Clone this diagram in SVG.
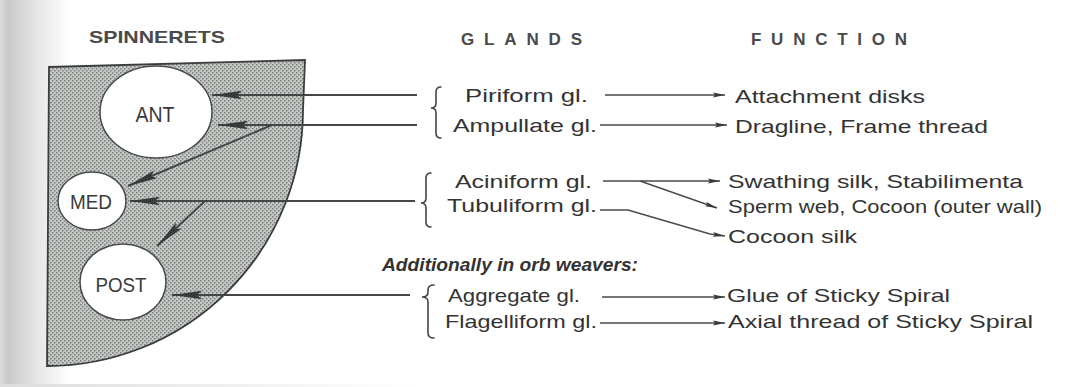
<svg xmlns="http://www.w3.org/2000/svg" width="1089" height="387" viewBox="0 0 1089 387">
  <defs>
    <style>
      .t { font-family: "Liberation Sans", Arial, sans-serif; font-size: 19px; fill: #333333; }
      .hd { font-family: "Liberation Sans", Arial, sans-serif; font-size: 17px; font-weight: bold; fill: #4a4a4a; }
      .sp { font-family: "Liberation Sans", Arial, sans-serif; fill: #3a3a3a; text-anchor: middle; }
      .node { fill: #ffffff; stroke: #4a4a4a; stroke-width: 1.5; }
      .big { fill: none; stroke: #464646; stroke-width: 2; marker-end: url(#bigHead); }
      .fn { fill: none; stroke: #4a4a4a; stroke-width: 1.4; marker-end: url(#smallHead); }
      .brace { fill: none; stroke: #444; stroke-width: 1.6; stroke-linecap: round; }
    </style>
    <linearGradient id="margin" x1="0" y1="0" x2="1" y2="0">
      <stop offset="0" stop-color="#dcdcdc"/>
      <stop offset="0.12" stop-color="#c9c9c9"/>
      <stop offset="0.5" stop-color="#e4e4e4"/>
      <stop offset="1" stop-color="#ffffff"/>
    </linearGradient>
    <linearGradient id="bottomEdge" x1="0" y1="0" x2="1" y2="0">
      <stop offset="0" stop-color="#dcdcdc"/>
      <stop offset="0.5" stop-color="#eeeeee"/>
      <stop offset="1" stop-color="#ffffff"/>
    </linearGradient>
    <pattern id="stipple" width="4" height="4" patternUnits="userSpaceOnUse">
      <rect width="4" height="4" fill="#c4c8c4"/>
      <rect x="0" y="0" width="1.5" height="1.5" fill="#7c807c"/>
      <rect x="2" y="2" width="1.5" height="1.5" fill="#7c807c"/>
    </pattern>
    <marker id="bigHead" markerUnits="userSpaceOnUse" markerWidth="30" markerHeight="10" viewBox="0 0 30 10" refX="30" refY="5" orient="auto">
      <path d="M0,0.8 L30,5 L0,9.2 L5,5 Z" fill="#3a3a3a"/>
    </marker>
    <marker id="smallHead" markerUnits="userSpaceOnUse" markerWidth="12" markerHeight="6" viewBox="0 0 12 6" refX="12" refY="3" orient="auto">
      <path d="M0,0.6 L12,3 L0,5.4 L2,3 Z" fill="#3a3a3a"/>
    </marker>
  </defs>

  <!-- page background -->
  <rect width="1089" height="387" fill="#ffffff"/>
  <rect x="0" y="0" width="70" height="387" fill="url(#margin)"/>
  <rect x="0" y="384" width="420" height="3" fill="url(#bottomEdge)"/>

  <!-- spinneret field -->
  <path id="spinneret-field" d="M49,67 L305,60 L303,110 A256,256 0 0 1 47,366 Z" fill="url(#stipple)" stroke="#3c3c3c" stroke-width="1.8"/>

  <!-- headers -->
  <g id="headers">
    <text class="hd" x="89" y="43" font-size="18" textLength="136" lengthAdjust="spacingAndGlyphs">SPINNERETS</text>
    <text class="hd" x="461" y="45" textLength="121" lengthAdjust="spacing">GLANDS</text>
    <text class="hd" x="751" y="45" textLength="156" lengthAdjust="spacing">FUNCTION</text>
  </g>

  <!-- spinnerets -->
  <g id="ANT">
    <ellipse class="node" cx="156" cy="112" rx="56" ry="46"/>
    <text class="sp" x="155" y="122" font-size="22" textLength="39" lengthAdjust="spacingAndGlyphs">ANT</text>
  </g>
  <g id="MED">
    <ellipse class="node" cx="92" cy="201" rx="34" ry="29"/>
    <text class="sp" x="91" y="209" font-size="20" textLength="42" lengthAdjust="spacingAndGlyphs">MED</text>
  </g>
  <g id="POST">
    <ellipse class="node" cx="123" cy="282" rx="43" ry="38"/>
    <text class="sp" x="121" y="292" font-size="21" textLength="51" lengthAdjust="spacingAndGlyphs">POST</text>
  </g>

  <!-- braces -->
  <g id="braces">
    <path class="brace" d="M441,87 Q436,87 436,92 L436,103 Q436,108 431,108 Q436,108 436,113 L436,133 Q436,138 441,138"/>
    <path class="brace" d="M431,173 Q426,173 426,178 L426,198 Q426,203 421,203 Q426,203 426,208 L426,222 Q426,227 431,227"/>
    <path class="brace" d="M434,285 Q428,285 428,290 L428,292 Q428,297 422,297 Q428,297 428,302 L428,333 Q428,338 434,338"/>
  </g>

  <!-- glands -->
  <g id="glands">
    <g id="piriform"><text class="t" x="465" y="102" textLength="123" lengthAdjust="spacingAndGlyphs">Piriform gl.</text></g>
    <g id="ampullate"><text class="t" x="453" y="132" textLength="144" lengthAdjust="spacingAndGlyphs">Ampullate gl.</text></g>
    <g id="aciniform"><text class="t" x="455" y="188" textLength="137" lengthAdjust="spacingAndGlyphs">Aciniform gl.</text></g>
    <g id="tubuliform"><text class="t" x="447" y="212" textLength="150" lengthAdjust="spacingAndGlyphs">Tubuliform gl.</text></g>
    <g id="orb-note"><text class="t" x="382" y="271" font-size="15" font-weight="bold" font-style="italic" textLength="256" lengthAdjust="spacingAndGlyphs">Additionally in orb weavers:</text></g>
    <g id="aggregate"><text class="t" x="448" y="302" textLength="132" lengthAdjust="spacingAndGlyphs">Aggregate gl.</text></g>
    <g id="flagelliform"><text class="t" x="445" y="328" textLength="152" lengthAdjust="spacingAndGlyphs">Flagelliform gl.</text></g>
  </g>

  <!-- functions -->
  <g id="functions">
    <g id="f-attachment"><text class="t" x="735" y="103" textLength="190" lengthAdjust="spacingAndGlyphs">Attachment disks</text></g>
    <g id="f-dragline"><text class="t" x="735" y="133" textLength="253" lengthAdjust="spacingAndGlyphs">Dragline, Frame thread</text></g>
    <g id="f-swathing"><text class="t" x="728" y="188" textLength="295" lengthAdjust="spacingAndGlyphs">Swathing silk, Stabilimenta</text></g>
    <g id="f-sperm"><text class="t" x="728" y="213" textLength="314" lengthAdjust="spacingAndGlyphs">Sperm web, Cocoon (outer wall)</text></g>
    <g id="f-cocoon"><text class="t" x="728" y="243" textLength="129" lengthAdjust="spacingAndGlyphs">Cocoon silk</text></g>
    <g id="f-glue"><text class="t" x="727" y="302" textLength="223" lengthAdjust="spacingAndGlyphs">Glue of Sticky Spiral</text></g>
    <g id="f-axial"><text class="t" x="728" y="328" textLength="305" lengthAdjust="spacingAndGlyphs">Axial thread of Sticky Spiral</text></g>
  </g>

  <!-- connectors -->
  <g id="connectors">
    <line class="big" x1="417" y1="95" x2="212" y2="95"/>
    <line class="big" x1="417" y1="125" x2="218" y2="125"/>
    <line class="big" x1="272" y1="125" x2="128" y2="186"/>
    <line class="big" x1="415" y1="201" x2="130" y2="201"/>
    <line class="big" x1="205" y1="201" x2="157" y2="246"/>
    <line class="big" x1="410" y1="295" x2="172" y2="295"/>

    <line class="fn" x1="605" y1="95" x2="725" y2="95"/>
    <line class="fn" x1="600" y1="125" x2="727" y2="125"/>
    <line class="fn" x1="603" y1="181" x2="720" y2="181"/>
    <line class="fn" x1="640" y1="181" x2="717" y2="208"/>
    <path class="fn" d="M600,210 L628,210 L710,234 L725,236"/>
    <line class="fn" x1="602" y1="297" x2="725" y2="297"/>
    <line class="fn" x1="600" y1="323" x2="725" y2="323"/>
  </g>
</svg>
